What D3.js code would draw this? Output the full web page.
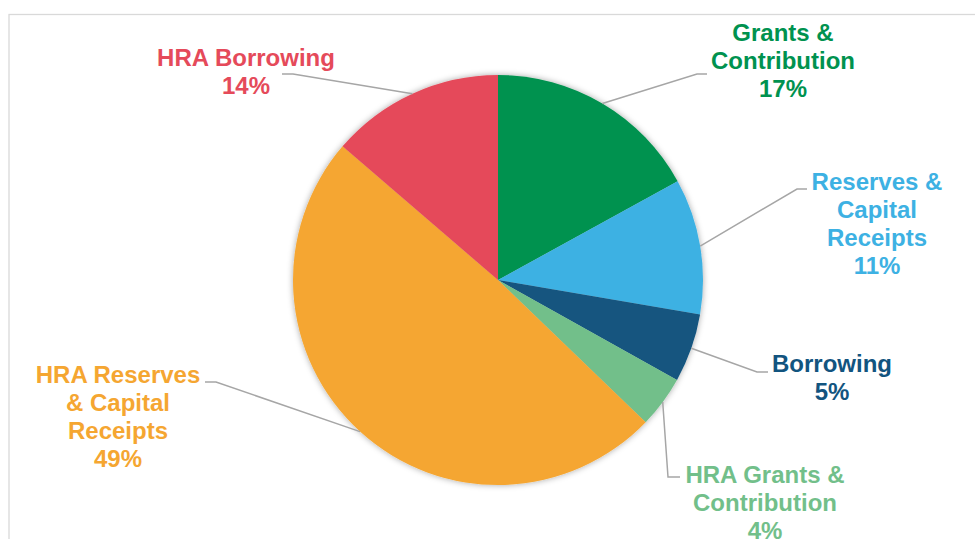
<html>
<head>
  <title>Capital Funding Pie</title>
  <script src="https://d3js.org/d3.v7.min.js"></script>
  <style>
    body { margin: 0; background: #fff; }
    text { font-family: "Liberation Sans", Arial, sans-serif; font-weight: bold; }
  </style>
</head>
<body>
<script>
  // data (clockwise from 12 o'clock)
  var categories = ["Grants & Contribution", "Reserves & Capital Receipts", "Borrowing",
                    "HRA Grants & Contribution", "HRA Reserves & Capital Receipts", "HRA Borrowing"];
  var values = [17.0, 10.7, 5.4, 4.1, 49.1, 13.7];
  var pctLabels = ["17%", "11%", "5%", "4%", "49%", "14%"];
  var labelLines = [["Grants &", "Contribution"], ["Reserves &", "Capital", "Receipts"], ["Borrowing"],
                    ["HRA Grants &", "Contribution"], ["HRA Reserves", "& Capital", "Receipts"], ["HRA Borrowing"]];
  var colors = ["#00924F", "#3DB1E3", "#12547F", "#72BF8A", "#F5A631", "#E54A5A"];

  // label layout: centre x, first baseline, leader elbow and end
  var layout = [
    { x: 783, y: 41,  elbow: [697, 74],  end: [707, 74] },
    { x: 877, y: 190, elbow: [797, 189], end: [807, 189] },
    { x: 832, y: 372, elbow: [757, 372], end: [768, 372] },
    { x: 765, y: 483, elbow: [668, 477], end: [680, 477] },
    { x: 118, y: 383, elbow: [216, 382], end: [205, 382] },
    { x: 246, y: 66,  elbow: [293, 74],  end: [282, 74] }
  ];

  var width = 975, height = 539;
  var cx = 498, cy = 280, r = 205;
  var lineH = 28;

  var svg = d3.select("body").append("svg")
              .attr("width", width)
              .attr("height", height);

  // drop shadow for the pie
  var defs = svg.append("defs");
  var f = defs.append("filter").attr("id", "shadow")
              .attr("x", "-10%").attr("y", "-10%").attr("width", "120%").attr("height", "120%");
  f.append("feDropShadow").attr("dx", 0).attr("dy", 0).attr("stdDeviation", 3)
   .attr("flood-color", "#000").attr("flood-opacity", 0.35);

  // chart frame
  svg.append("rect")
     .attr("x", 9).attr("y", 14.5)
     .attr("width", width).attr("height", height)
     .attr("fill", "none").attr("stroke", "#d9d9d9").attr("stroke-width", 1.3);

  var pie = d3.pie().sort(null).value(function(d){ return d; });
  var arcs = pie(values);
  var arc = d3.arc().innerRadius(0).outerRadius(r);

  var g = svg.append("g").attr("transform", "translate(" + cx + "," + cy + ")");

  g.append("g").attr("filter", "url(#shadow)")
   .selectAll("path")
   .data(arcs)
   .enter()
   .append("path")
   .attr("d", arc)
   .attr("fill", function(d, i){ return colors[i]; });

  // leader lines
  svg.selectAll("polyline.leader")
     .data(arcs)
     .enter()
     .append("polyline")
     .attr("class", "leader")
     .attr("points", function(d, i) {
        var a = (d.startAngle + d.endAngle) / 2;
        var px = cx + r * Math.sin(a);
        var py = cy - r * Math.cos(a);
        var L = layout[i];
        return [[px, py], L.elbow, L.end].map(function(p){ return p.join(","); }).join(" ");
     })
     .attr("fill", "none")
     .attr("stroke", "#a6a6a6")
     .attr("stroke-width", 1.5);

  // labels
  var labels = svg.selectAll("text.lbl")
     .data(arcs)
     .enter()
     .append("text")
     .attr("class", "lbl")
     .attr("text-anchor", "middle")
     .attr("font-size", 24)
     .attr("fill", function(d, i){ return colors[i]; });

  labels.each(function(d, i) {
    var t = d3.select(this);
    var lines = labelLines[i].concat([pctLabels[i]]);
    lines.forEach(function(s, k) {
      t.append("tspan")
       .attr("x", layout[i].x)
       .attr("y", layout[i].y + k * lineH)
       .text(s);
    });
  });
</script>
</body>
</html>
